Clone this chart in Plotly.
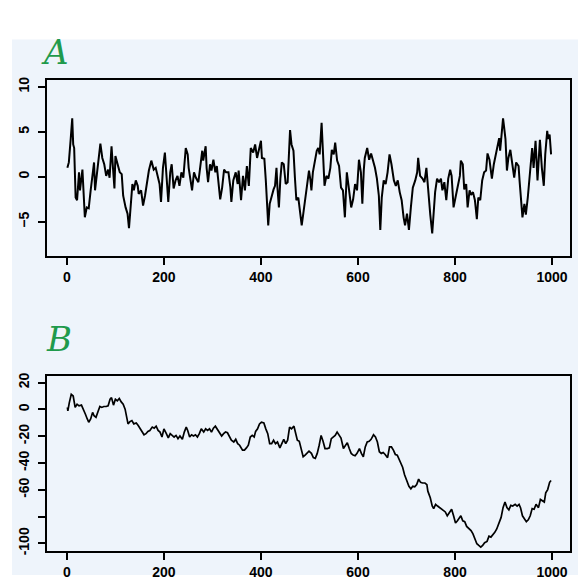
import plotly.graph_objects as go

# ---- Panel A (stationary series) ----
A_t = [1,4,8,11,13,15,18,21,25,27,32,34,37,41,45,49,54,56,58,63,69,73,77,81,85,88,92,95,98,100,
       104,109,113,116,121,125,128,131,135,138,142,146,148,153,157,161,165,169,174,179,183,187,191,194,198,202,205,209,213,216,
       220,224,228,232,236,240,245,249,251,256,258,262,266,271,275,279,281,286,288,291,295,298,302,306,309,312,316,320,324,328,
       333,337,339,343,348,352,354,359,363,
       367,371,375,379,384,388,392,396,400,402,407,410,412,415,418,422,426,429,432,434,437,440,443,447,451,455,458,460,463,467,
       470,473,477,481,484,487,491,495,499,502,504,507,511,515,518,521,525,528,531,535,539,543,546,550,553,557,561,565,569,573,
       577,581,586,590,594,598,602,606,609,612,614,619,623,627,631,635,639,643,646,649,653,657,661,665,669,674,678,682,686,690,
       694,697,701,705,709,713,718,722,724,728,733,737,741,744,746,749,753,756,759,763,767,771,774,778,782,786,790,793,797,801,
       806,810,812,816,819,823,826,830,833,837,841,845,848,852,856,860,864,867,871,876,880,884,887,891,893,896,899,901,904,907,
       910,914,918,922,926,931,933,936,939,943,946,950,954,957,959,962,966,970,975,979,983,986,990,992,995,998]
A_v = [1.0,1.6,4.3,6.5,3.6,3.2,-2.3,-2.6,0.5,-1.5,0.8,-1.2,-4.5,-3.4,-3.5,-1.5,0.7,1.6,-1.5,1.0,
       3.7,2.1,1.4,0.1,0.8,-0.1,3.4,1.0,-1.3,2.3,1.6,0.5,0.3,-2.1,-3.4,-4.1,-5.7,-3.7,-0.8,-1.5,
       -0.4,-1.0,-1.9,-1.5,-3.2,-2.1,-0.4,0.7,1.8,0.8,1.0,-0.1,-0.8,-2.8,1.0,2.7,0.3,-2.8,0.5,1.4,
       -1.3,-0.4,0.1,-1.0,0.5,-0.1,3.2,2.5,1.0,-0.8,-1.5,0.5,-0.1,-0.6,1.0,2.9,1.8,3.4,1.0,-0.6,
       1.4,0.7,1.9,0.5,1.2,-0.8,-2.5,-1.2,0.8,0.5,0.5,-1.2,-2.8,-0.4,0.5,-0.8,0.7,-2.6,0.1,
       -1.5,1.2,-1.0,3.2,2.7,3.6,2.1,3.2,4.0,2.1,2.0,-0.4,-2.6,-5.4,-3.0,-2.1,-1.4,-1.0,1.0,-1.2,
       -3.4,-0.2,1.6,1.4,-0.8,-0.6,4.1,5.2,3.6,2.9,-0.1,-2.6,-2.3,-4.1,-5.4,-4.2,-2.6,-0.8,0.7,-0.4,
       -1.5,0.5,1.9,2.9,3.2,2.5,6.0,2.9,-1.0,0.1,-0.2,1.0,3.0,2.5,3.8,1.8,1.2,-1.2,-1.5,-4.5,
       0.5,-1.2,-3.4,-2.5,-0.8,-1.5,1.9,0.5,-3.0,0.8,2.1,3.2,1.9,2.6,1.8,1.0,-0.2,-2.1,-5.9,-2.3,
       -0.4,-0.8,0.5,2.5,1.4,-0.4,-1.0,-0.4,-1.7,-2.6,
       -4.5,-5.4,-4.1,-5.9,-3.4,-1.2,-0.4,0.5,2.1,0.1,-0.2,-0.6,1.0,-1.0,-3.0,-4.2,-6.3,-4.1,-1.7,-0.2,
       -0.6,-0.2,-1.5,-0.6,-2.6,-0.2,0.8,0.1,-3.4,-2.3,-0.8,0.1,1.8,1.4,-1.4,-0.8,-3.4,-1.5,-2.0,-1.7,
       -2.6,-4.7,-2.3,-2.6,-0.4,0.5,0.7,2.6,1.9,-0.2,1.4,2.5,3.4,4.3,2.9,4.9,6.5,5.6,4.2,0.7,
       2.1,3.0,1.6,-0.1,1.6,1.2,-0.4,-2.6,-4.5,-3.0,-4.2,-2.3,0.5,1.9,3.2,1.0,4.0,-0.4,4.1,1.0,
       -1.0,2.5,5.1,4.2,4.7,2.5]

# ---- Panel B (random walk) ----
B_t = [1,2,5,9,13,17,21,25,30,34,38,42,45,49,53,56,60,64,68,72,76,81,85,89,92,96,100,104,108,112,
       116,120,123,126,130,134,138,143,147,151,155,159,163,167,171,176,180,184,188,192,196,200,205,209,213,217,221,225,229,233,
       238,242,246,249,253,257,261,265,269,273,277,282,286,290,294,298,302,306,311,315,319,323,327,331,335,339,344,348,352,356,
       362,366,370,374,378,382,386,389,393,397,401,406,410,414,418,422,426,430,434,439,443,447,451,455,459,463,468,470,475,479,
       483,487,491,495,499,504,508,512,516,520,524,528,532,537,541,545,549,553,557,561,565,570,574,578,582,586,590,594,598,603,
       607,611,615,619,623,627,632,636,640,644,648,652,656,661,665,669,673,677,681,685,689,
       692,696,700,705,709,713,717,721,725,729,733,738,742,744,749,753,756,760,764,768,772,776,780,784,789,793,797,801,805,809,
       812,816,820,824,829,833,837,841,845,849,853,857,861,866,870,874,878,882,886,890,895,899,903,907,911,915,919,924,928,932,
       935,939,943,947,951,955,959,963,967,972,976,980,984,987,991,995,998]
B_v = [1.5,-1.0,5.1,11.3,10.0,1.5,3.9,2.7,3.2,0.2,-3.4,-7.1,-9.6,-7.1,-2.2,-4.7,-5.9,-1.7,2.2,1.5,
       2.2,2.2,2.7,7.6,8.8,3.2,7.6,6.4,8.1,5.6,3.9,0.2,-4.7,-10.8,-9.1,-8.3,-10.8,-10.1,-12.0,-14.5,
       -16.9,-18.9,-18.1,-16.4,-15.7,-13.2,-14.0,-12.5,-15.7,-16.9,-20.6,-14.5,-18.1,-21.3,-18.1,-19.4,-20.6,-19.4,-21.8,-19.8,
       -22.3,-16.9,-13.2,-15.7,-20.6,-18.9,-19.8,-18.9,-20.6,-18.1,-14.5,-16.9,-14.5,-15.7,-14.5,-16.9,-14.0,-12.5,-15.0,-16.9,
       -19.8,-18.1,-16.9,-17.4,-20.6,-23.0,-24.3,-22.3,-25.5,-26.7,
       -30.4,-30.4,-28.7,-26.7,-20.6,-19.4,-20.6,-16.4,-14.5,-10.8,-9.6,-10.1,-14.5,-18.1,-25.5,-25.5,-23.0,-25.5,-24.3,-28.7,
       -25.5,-22.3,-25.5,-23.0,-13.2,-14.5,-12.5,-15.7,-23.0,-23.8,-30.4,-35.3,-34.1,-32.8,-31.1,-32.8,-36.0,-36.5,-32.8,-26.7,
       -19.4,-23.8,-29.2,-29.2,-28.7,-21.8,-20.6,-19.4,-16.9,-19.4,-21.3,-29.2,-26.7,-24.8,-29.2,-32.8,-34.1,-34.6,-32.8,-29.2,
       -32.8,-35.3,-28.0,-24.3,-23.8,-22.3,-18.9,-20.6,-24.3,-31.6,-32.8,-32.1,-33.6,-36.0,-28.0,-28.0,-30.4,-33.6,-34.1,-37.0,
       -40.2,
       -43.1,-48.8,-52.5,-57.4,-59.3,-57.4,-57.8,-56.1,-52.0,-54.4,-54.9,-54.9,-56.1,-61.0,-65.9,-72.1,-74.0,-70.8,-72.1,-73.3,
       -74.0,-75.0,-76.5,-79.4,-77.0,-74.5,-79.4,-84.8,-83.1,-80.6,-79.4,-83.1,-83.8,-87.3,-89.2,-90.4,-92.9,-97.1,-100.2,-101.5,
       -102.7,-101.5,-99.5,-98.5,-94.6,-95.3,-93.6,-91.7,-89.2,-84.8,-80.6,-73.3,-69.1,-73.3,-75.0,-71.6,-72.1,-70.8,-72.1,-70.8,
       -73.3,-79.4,-81.9,-83.8,-82.4,-79.4,-74.0,-74.5,-70.8,-73.3,-67.2,-68.4,-69.1,-62.3,-59.8,-54.4,-53.0]

assert len(A_t) == len(A_v), (len(A_t), len(A_v))
assert len(B_t) == len(B_v), (len(B_t), len(B_v))

x_ticks = [0, 200, 400, 600, 800, 1000]
A_yticks = [10, 5, 0, -5]
B_yticks = [20, 0, -20, -40, -60, -80, -100]
B_yticklabels = ["20", "0", "-20", "-40", "-60", "", "-100"]
panel_labels = ["A", "B"]

W, H = 585, 580
def px(x): return x / W
def py(y): return 1 - y / H

fig = go.Figure()
fig.add_trace(go.Scatter(x=A_t, y=A_v, mode="lines", line=dict(color="black", width=2.0),
                         xaxis="x", yaxis="y", showlegend=False, hoverinfo="skip"))
fig.add_trace(go.Scatter(x=B_t, y=B_v, mode="lines", line=dict(color="black", width=1.7),
                         xaxis="x2", yaxis="y2", showlegend=False, hoverinfo="skip"))

tickfont = dict(family="Liberation Sans, Arial, sans-serif", size=14, color="black", weight=700)
common_ax = dict(showline=True, linecolor="black", linewidth=2, mirror=True,
                 ticks="outside", ticklen=7, tickwidth=1.5, tickcolor="black",
                 showgrid=False, zeroline=False, tickfont=tickfont, fixedrange=True)

fig.update_layout(
    width=W, height=H,
    margin=dict(l=0, r=0, t=0, b=0),
    paper_bgcolor="white",
    plot_bgcolor="rgba(0,0,0,0)",
    xaxis=dict(domain=[px(47), px(570)], anchor="y", range=[-41, 1037],
               tickvals=x_ticks, **common_ax),
    yaxis=dict(domain=[py(257), py(78)], anchor="x", range=[-8.85, 10.77],
               tickvals=A_yticks, tickangle=-90, ticklabelstandoff=3, **common_ax),
    xaxis2=dict(domain=[px(47), px(570)], anchor="y2", range=[-41, 1037],
                tickvals=x_ticks, **common_ax),
    yaxis2=dict(domain=[py(556), py(378)], anchor="x2", range=[-105.9, 25.1],
                tickvals=B_yticks, ticktext=B_yticklabels, tickangle=-90, ticklabelstandoff=3, **common_ax),
    shapes=[dict(type="rect", xref="paper", yref="paper",
                 x0=px(12), x1=px(578), y0=0, y1=py(37),
                 fillcolor="#eef4fb", line=dict(width=0), layer="below")],
    annotations=[
        dict(text=panel_labels[0], xref="paper", yref="paper", x=px(39), y=py(27),
             showarrow=False, font=dict(family="DejaVu Serif", size=34, color="#1f9a4c", style="italic")),
        dict(text=panel_labels[1], xref="paper", yref="paper", x=px(44), y=py(341),
             showarrow=False, font=dict(family="DejaVu Serif", size=34, color="#1f9a4c", style="italic")),
    ],
)

fig.write_html("out.html",
               config={"displayModeBar": False},
               post_script="document.body.style.margin='0';document.body.style.padding='0';")
